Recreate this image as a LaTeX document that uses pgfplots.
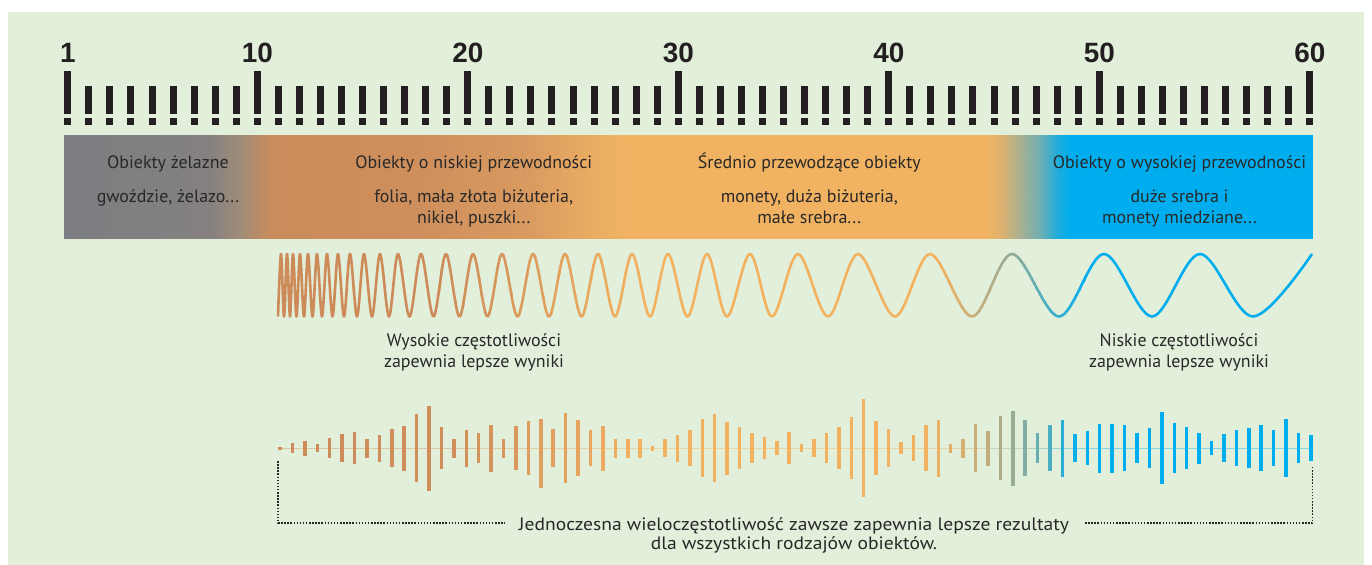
\documentclass[border=0pt]{standalone}
\usepackage{pgfplots}
\pgfplotsset{compat=1.18}
\usepackage{pgfplotstable}
\usepackage{fontspec}
\setmainfont{PT Sans}
\newfontfamily\numfont{Liberation Sans}
\definecolor{bg}{RGB}{226,239,218}
\definecolor{txt}{RGB}{40,40,40}
\definecolor{tickc}{RGB}{35,31,32}
\definecolor{wBr}{RGB}{204,139,89}
\definecolor{wOr}{RGB}{242,178,96}
\definecolor{wGG}{RGB}{160,172,145}
\definecolor{wBl}{RGB}{0,174,239}

\pgfplotsset{
  base/.style={anchor=south west, scale only axis, hide axis, height=565bp,
    ymin=0, ymax=565, y dir=reverse},
  colormap={band}{rgb255(64pt)=(124,125,130) rgb255(210pt)=(133,129,128)
    rgb255(240pt)=(160,140,120) rgb255(270pt)=(200,140,94) rgb255(290pt)=(203,140,91)
    rgb255(420pt)=(206,143,92) rgb255(530pt)=(218,155,97) rgb255(590pt)=(234,172,98)
    rgb255(630pt)=(241,179,98) rgb255(985pt)=(241,179,98) rgb255(1000pt)=(225,178,110)
    rgb255(1020pt)=(170,176,145) rgb255(1040pt)=(110,175,178) rgb255(1058pt)=(30,173,220)
    rgb255(1070pt)=(0,174,239) rgb255(1313pt)=(0,174,239)},
  colormap={bars}{rgb255(64pt)=(204,139,89) rgb255(450pt)=(207,141,90)
    rgb255(560pt)=(226,160,96) rgb255(640pt)=(242,178,96) rgb255(930pt)=(242,178,96)
    rgb255(990pt)=(190,172,125) rgb255(1010pt)=(160,172,145) rgb255(1040pt)=(100,174,180)
    rgb255(1075pt)=(10,174,232) rgb255(1090pt)=(0,174,239) rgb255(1313pt)=(0,174,239)},
  wavestyle/.style={smooth, tension=0.55, line width=2.6bp, mark=none, line join=round},
}
\tikzset{
  lab/.style={font=\fontsize{18}{21}\selectfont, text=txt, anchor=base, inner sep=0pt},
  num/.style={font=\numfont\bfseries\fontsize{28}{30}\selectfont, text=tickc, anchor=base, inner sep=0pt},
}

% ruler positions 1..60 with the top of each tick (pixels)
\pgfplotstableread{
n top
1 86
2 86
3 86
4 86
5 86
6 86
7 86
8 86
9 86
10 86
11 86
12 86
13 86
14 86
15 86
16 86
17 86
18 86
19 86
20 86
21 86
22 86
23 86
24 86
25 86
26 86
27 86
28 86
29 86
30 86
31 86
32 86
33 86
34 86
35 86
36 86
37 86
38 86
39 86
40 86
41 86
42 86
43 86
44 86
45 86
46 86
47 86
48 86
49 86
50 86
51 86
52 86
53 86
54 86
55 86
56 86
57 86
58 86
59 86
60 86
}\rulerall

\pgfplotstableread{
n top
1 71
10 71
20 71
30 71
40 71
50 71
60 71
}\rulermaj

% wave extrema (pixel positions)
\pgfplotstableread{
x y
278 316.5
281 254
284 316.5
287 254
290 316.5
293 254
296.5 316.5
300 254
304 316.5
308 254
312.5 316.5
317 254
322 316.5
327 254
332.5 316.5
338 254
344 316.5
350 254
357 316.5
364 254
372 316.5
380 254
389 316.5
398 254
409.5 316.5
421 254
433.5 316.5
446 254
459.5 316.5
473 254
487.5 316.5
502 254
517.5 316.5
533 254
549 316.5
565 254
581.5 316.5
598 254
615 316.5
632 254
650 316.5
668 254
687.5 316.5
707 254
727 316.5
750 254
772 316.5
798 254
828 316.5
858 254
895 316.5
930 254
972 316.5
1012 254
1059 316.5
1104 254
1152 316.5
1200 254
1253 316.5
1312 254
}\wavedata

% bars: index, top, bottom (pixels)
\pgfplotstableread{
i top bot
0 447.0 450.0
1 443.3 453.0
2 440.7 455.7
3 444.3 452.0
4 438.3 458.3
5 434.0 462.3
6 432.3 464.0
7 439.0 457.7
8 435.0 461.7
9 429.3 467.0
10 426.0 470.7
11 414.3 482.0
12 405.7 490.7
13 427.0 469.3
14 439.0 457.7
15 429.7 467.0
16 433.3 463.0
17 425.0 471.7
18 439.0 457.7
19 426.0 470.0
20 421.0 475.0
21 419.0 487.7
22 429.0 467.0
23 413.0 483.0
24 420.0 476.0
25 430.3 466.0
26 425.7 470.7
27 439.0 457.7
28 439.0 457.7
29 439.0 457.7
30 445.7 451.0
31 439.0 457.3
32 435.0 461.7
33 430.0 466.3
34 419.0 477.3
35 414.0 482.3
36 421.7 474.7
37 427.3 469.0
38 433.0 463.3
39 437.3 459.0
40 441.3 455.0
41 432.0 464.0
42 444.0 452.3
43 439.0 457.3
44 433.0 463.3
45 427.3 469.0
46 417.0 479.3
47 399.3 497.0
48 421.0 475.3
49 429.0 467.3
50 442.3 454.0
51 435.0 461.3
52 425.3 470.7
53 419.7 476.7
54 443.7 452.7
55 438.7 457.7
56 424.3 471.7
57 431.0 465.7
58 416.0 480.3
59 410.7 485.7
60 420.3 475.7
61 433.0 463.3
62 425.3 470.7
63 420.0 476.7
64 434.3 461.7
65 431.3 464.7
66 423.7 472.7
67 423.7 472.7
68 425.3 470.7
69 433.0 463.0
70 428.3 467.7
71 412.0 484.3
72 423.0 473.3
73 427.3 469.0
74 433.0 463.7
75 441.3 455.3
76 433.7 462.3
77 430.3 466.0
78 428.3 467.7
79 425.3 470.7
80 430.3 466.0
81 419.0 477.0
82 433.0 463.0
83 435.0 461.3
}\bardata

\begin{document}
\begin{tikzpicture}
\begin{axis}[base, at={(0,0)}, width=1372bp, xmin=0, xmax=1372,
  point meta min=64, point meta max=1313]
  % backgrounds
  \addplot[fill=white, draw=none] coordinates {(0,0) (1372,0) (1372,565) (0,565)} -- cycle;
  \addplot[fill=bg, draw=none] coordinates {(8,12) (1364,12) (1364,565) (8,565)} -- cycle;
  % coloured band
  \addplot[surf, shader=interp, colormap name=band, point meta=x, mesh/rows=2] table {
x y
64 135
210 135
240 135
270 135
290 135
420 135
530 135
590 135
630 135
985 135
1000 135
1020 135
1040 135
1058 135
1070 135
1313 135
64 238
210 238
240 238
270 238
290 238
420 238
530 238
590 238
630 238
985 238
1000 238
1020 238
1040 238
1058 238
1070 238
1313 238
};
  % ruler
  \addplot[tickc, line width=7bp, quiver={u=0, v=114.5-\thisrow{top}}]
    table[x expr=67.8+21.05*(\thisrow{n}-1), y=top] {\rulerall};
  \addplot[tickc, line width=7bp, quiver={u=0, v=114.5-\thisrow{top}}]
    table[x expr=67.8+21.05*(\thisrow{n}-1), y=top] {\rulermaj};
  \addplot[tickc, line width=7bp, quiver={u=0, v=6.5}]
    table[x expr=67.8+21.05*(\thisrow{n}-1), y expr=118.5] {\rulerall};
  % centre line of bars
  \addplot[mesh, colormap name=bars, point meta=x, opacity=0.4, line width=1.4bp]
    coordinates {(280,448.3) (330,448.3) (380,448.3) (430,448.3) (480,448.3) (530,448.3)
      (580,448.3) (630,448.3) (680,448.3) (730,448.3) (780,448.3) (830,448.3) (880,448.3)
      (930,448.3) (960,448.3) (990,448.3) (1010,448.3) (1030,448.3) (1050,448.3)
      (1070,448.3) (1090,448.3) (1150,448.3) (1250,448.3) (1311,448.3)};
  % bars
  \addplot[line width=3.5bp, colormap name=bars, point meta=x,
    quiver={u=0, v=\thisrow{bot}-\thisrow{top}, colored}]
    table[x expr=280+12.42*\thisrow{i}, y=top] {\bardata};
  % bracket
  \addplot[txt, line width=1.3bp, dash pattern=on 1.5bp off 1.6bp]
    coordinates {(278,461) (278,523) (505,523)};
  \addplot[txt, line width=1.3bp, dash pattern=on 1.5bp off 1.6bp]
    coordinates {(1085,523) (1312.5,523) (1312.5,466)};
  % ruler numbers
  \node[num] at (axis cs:67.8,62.3) {1};
  \node[num] at (axis cs:257.3,62.3) {10};
  \node[num] at (axis cs:467.8,62.3) {20};
  \node[num] at (axis cs:678.3,62.3) {30};
  \node[num] at (axis cs:888.8,62.3) {40};
  \node[num] at (axis cs:1099.3,62.3) {50};
  \node[num] at (axis cs:1309.8,62.3) {60};
  % band texts
  \node[lab] at (axis cs:168,168.3) {Obiekty żelazne};
  \node[lab] at (axis cs:168,202.7) {gwoździe, żelazo...};
  \node[lab] at (axis cs:473.7,168.3) {Obiekty o niskiej przewodności};
  \node[lab] at (axis cs:473.7,202.7) {folia, mała złota biżuteria,};
  \node[lab] at (axis cs:473.7,223.3) {nikiel, puszki...};
  \node[lab] at (axis cs:809.3,168.3) {Średnio przewodzące obiekty};
  \node[lab] at (axis cs:809.3,202.7) {monety, duża biżuteria,};
  \node[lab] at (axis cs:809.3,223.3) {małe srebra...};
  \node[lab] at (axis cs:1179.5,168.3) {Obiekty o wysokiej przewodności};
  \node[lab] at (axis cs:1179.5,202.7) {duże srebra i};
  \node[lab] at (axis cs:1179.5,223.3) {monety miedziane...};
  % wave labels
  \node[lab] at (axis cs:474,346.7) {Wysokie częstotliwości};
  \node[lab] at (axis cs:474,367.7) {zapewnia lepsze wyniki};
  \node[lab] at (axis cs:1179,346.7) {Niskie częstotliwości};
  \node[lab] at (axis cs:1179,367.7) {zapewnia lepsze wyniki};
  % bottom texts
  \node[lab] at (axis cs:794,530.5) {\scalebox{1.09}[1]{Jednoczesna wieloczęstotliwość zawsze zapewnia lepsze rezultaty}};
  \node[lab] at (axis cs:794,549.3) {\scalebox{1.09}[1]{dla wszystkich rodzajów obiektów.}};
\end{axis}
% wave, drawn in vertical strips to give it its colour gradient
\begin{axis}[base, at={(260bp,0)}, width=181bp, xmin=260, xmax=441]
  \addplot[wBr, wavestyle] table {\wavedata};
\end{axis}
\foreach \k in {0,...,24} {
  \pgfmathsetmacro\sa{440+8*\k}
  \pgfmathsetmacro\sb{\sa+8.6}
  \pgfmathsetmacro\sp{(8*\k+4)/2}
  \begin{axis}[base, at={(\sa bp,0)}, width=8.6bp, xmin=\sa, xmax=\sb]
    \addplot[wOr!\sp!wBr, wavestyle] table {\wavedata};
  \end{axis}
}
\begin{axis}[base, at={(639bp,0)}, width=302bp, xmin=639, xmax=941]
  \addplot[wOr, wavestyle] table {\wavedata};
\end{axis}
\foreach \k in {0,...,12} {
  \pgfmathsetmacro\sa{940+5*\k}
  \pgfmathsetmacro\sb{\sa+5.6}
  \pgfmathsetmacro\sp{(5*\k+2.5)/65*100}
  \begin{axis}[base, at={(\sa bp,0)}, width=5.6bp, xmin=\sa, xmax=\sb]
    \addplot[wGG!\sp!wOr, wavestyle] table {\wavedata};
  \end{axis}
}
\foreach \k in {0,...,15} {
  \pgfmathsetmacro\sa{1005+5*\k}
  \pgfmathsetmacro\sb{\sa+5.6}
  \pgfmathsetmacro\sp{(5*\k+2.5)/80*100}
  \begin{axis}[base, at={(\sa bp,0)}, width=5.6bp, xmin=\sa, xmax=\sb]
    \addplot[wBl!\sp!wGG, wavestyle] table {\wavedata};
  \end{axis}
}
\begin{axis}[base, at={(1084bp,0)}, width=246bp, xmin=1084, xmax=1330]
  \addplot[wBl, wavestyle] table {\wavedata};
\end{axis}
\end{tikzpicture}
\end{document}
